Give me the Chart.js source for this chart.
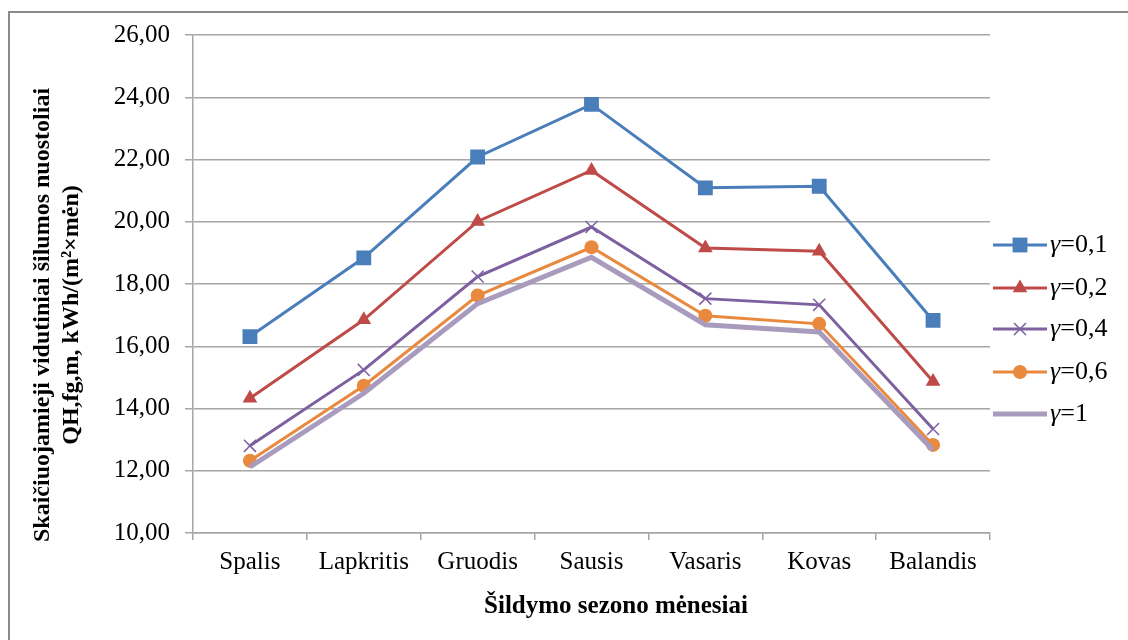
<!DOCTYPE html>
<html>
<head>
<meta charset="utf-8">
<script src="https://cdn.jsdelivr.net/npm/chart.js@4.4.0/dist/chart.umd.min.js"></script>
<style>
  html, body { margin: 0; padding: 0; background: #fff; }
  #wrap { position: relative; width: 1128px; height: 640px; overflow: hidden; }
  #frame { position: absolute; left: 8px; top: 11px; width: 1200px; height: 700px; border-left: 2px solid #8a8a8a; border-top: 2px solid #8a8a8a; }
  canvas { position: absolute; left: 0; top: 0; }
</style>
</head>
<body>
<div id="wrap">
  <div id="frame"></div>
  <canvas id="grafica" width="1128" height="640"></canvas>
</div>
<script>
// Duomenys
const menesiai = ['Spalis', 'Lapkritis', 'Gruodis', 'Sausis', 'Vasaris', 'Kovas', 'Balandis'];
const gama01 = [16.31, 18.84, 22.08, 23.77, 21.09, 21.14, 16.83];
const gama02 = [14.33, 16.85, 20.01, 21.65, 19.16, 19.05, 14.87];
const gama04 = [12.80, 15.24, 18.24, 19.83, 17.53, 17.33, 13.34];
const gama06 = [12.32, 14.73, 17.63, 19.18, 16.98, 16.72, 12.83];
const gama1 = [12.12, 14.49, 17.37, 18.86, 16.69, 16.46, 12.67];
const gamaReiksmes = ['0,1', '0,2', '0,4', '0,6', '1'];

const serif = '"Liberation Serif", "Times New Roman", serif';
const ashis = '#a6a6a6';

function serija(label, data, color, style, radius, width) {
  return {
    label: label,
    data: data,
    borderColor: color,
    backgroundColor: color,
    borderWidth: width,
    pointStyle: style,
    pointRadius: radius,
    pointBorderWidth: style === 'crossRot' ? 1.5 : 0,
    pointBorderColor: color,
    pointBackgroundColor: color,
    tension: 0
  };
}

const datasets = [
  serija(gamaReiksmes[0], gama01, '#4a7ebb', 'rect', 10.5, 3),
  serija(gamaReiksmes[1], gama02, '#be4b48', 'triangle', 8.5, 3),
  serija(gamaReiksmes[2], gama04, '#7d60a0', 'crossRot', 8.5, 3),
  serija(gamaReiksmes[3], gama06, '#e8893e', 'circle', 7, 3),
  serija(gamaReiksmes[4], gama1, '#a99bbd', false, 0, 5)
];
// Excel piesia velesnes serijas virsuje
datasets.forEach((d, i) => { d.order = datasets.length - i; });

// Legendos zymeklis
function zymeklis(ctx, style, x, y, r, color) {
  ctx.save();
  ctx.fillStyle = color;
  ctx.strokeStyle = color;
  ctx.beginPath();
  if (style === 'rect') {
    const s = r * Math.SQRT1_2;
    ctx.rect(x - s, y - s, 2 * s, 2 * s);
    ctx.fill();
  } else if (style === 'triangle') {
    ctx.moveTo(x, y - r);
    ctx.lineTo(x + r * Math.cos(Math.PI / 6), y + r / 2);
    ctx.lineTo(x - r * Math.cos(Math.PI / 6), y + r / 2);
    ctx.closePath();
    ctx.fill();
  } else if (style === 'circle') {
    ctx.arc(x, y, r, 0, Math.PI * 2);
    ctx.fill();
  } else if (style === 'crossRot') {
    const o = r * Math.SQRT1_2;
    ctx.lineWidth = 1.5;
    ctx.moveTo(x - o, y - o); ctx.lineTo(x + o, y + o);
    ctx.moveTo(x - o, y + o); ctx.lineTo(x + o, y - o);
    ctx.stroke();
  }
  ctx.restore();
}

const pavadinimai = {
  id: 'pavadinimai',
  afterDraw(chart) {
    const ctx = chart.ctx;
    ctx.save();
    ctx.fillStyle = '#000';
    ctx.textBaseline = 'middle';

    // y asies pavadinimas
    ctx.save();
    ctx.translate(43, 315);
    ctx.rotate(-Math.PI / 2);
    ctx.textAlign = 'center';
    ctx.font = 'bold 24px ' + serif;
    ctx.fillText('Skaičiuojamieji vidutiniai šilumos nuostoliai', 0, 0);
    ctx.fillText('QH,fg,m, kWh/(m²×mėn)', 0, 29);
    ctx.restore();

    // x asies pavadinimas
    ctx.textAlign = 'center';
    ctx.font = 'bold 25px ' + serif;
    ctx.fillText('Šildymo sezono mėnesiai', 616, 607);

    // legenda
    const ys = [245, 288, 329, 372, 414];
    chart.data.datasets.forEach((d, i) => {
      const y = ys[i];
      ctx.save();
      ctx.strokeStyle = d.borderColor;
      ctx.lineWidth = d.borderWidth;
      ctx.beginPath();
      ctx.moveTo(993, y);
      ctx.lineTo(1047, y);
      ctx.stroke();
      ctx.restore();
      if (d.pointStyle) zymeklis(ctx, d.pointStyle, 1020, y, d.pointRadius, d.borderColor);
      ctx.textAlign = 'left';
      ctx.font = 'italic 26px ' + serif;
      ctx.fillText('γ', 1050, y);
      const w = ctx.measureText('γ').width;
      ctx.font = '26px ' + serif;
      ctx.fillText('=' + d.label, 1050 + w, y);
    });
    ctx.restore();
  }
};

const ctx = document.getElementById('grafica').getContext('2d');
const myChart = new Chart(ctx, {
  type: 'line',
  data: {
    labels: menesiai,
    datasets: datasets
  },
  options: {
    responsive: false,
    animation: false,
    layout: { padding: { left: 0, right: 138, top: 35, bottom: 0 } },
    plugins: {
      legend: { display: false },
      tooltip: { enabled: false }
    },
    scales: {
      x: {
        offset: true,
        grid: { offset: true, drawOnChartArea: false, color: ashis, lineWidth: 1.5, tickLength: 7 },
        border: { color: ashis, width: 1.5 },
        ticks: { color: '#000', font: { family: serif, size: 25 }, padding: 7, maxRotation: 0, autoSkip: false },
        afterFit(scale) { scale.height = 640 - 533; }
      },
      y: {
        min: 10,
        max: 26,
        grid: { color: ashis, lineWidth: 1.5, tickLength: 8 },
        border: { color: ashis, width: 1.5 },
        ticks: {
          stepSize: 2,
          color: '#000',
          font: { family: serif, size: 25 },
          padding: 15,
          callback: v => v.toFixed(2).replace('.', ',')
        },
        afterFit(scale) { scale.width = 193; }
      }
    }
  },
  plugins: [pavadinimai]
});
</script>
</body>
</html>
